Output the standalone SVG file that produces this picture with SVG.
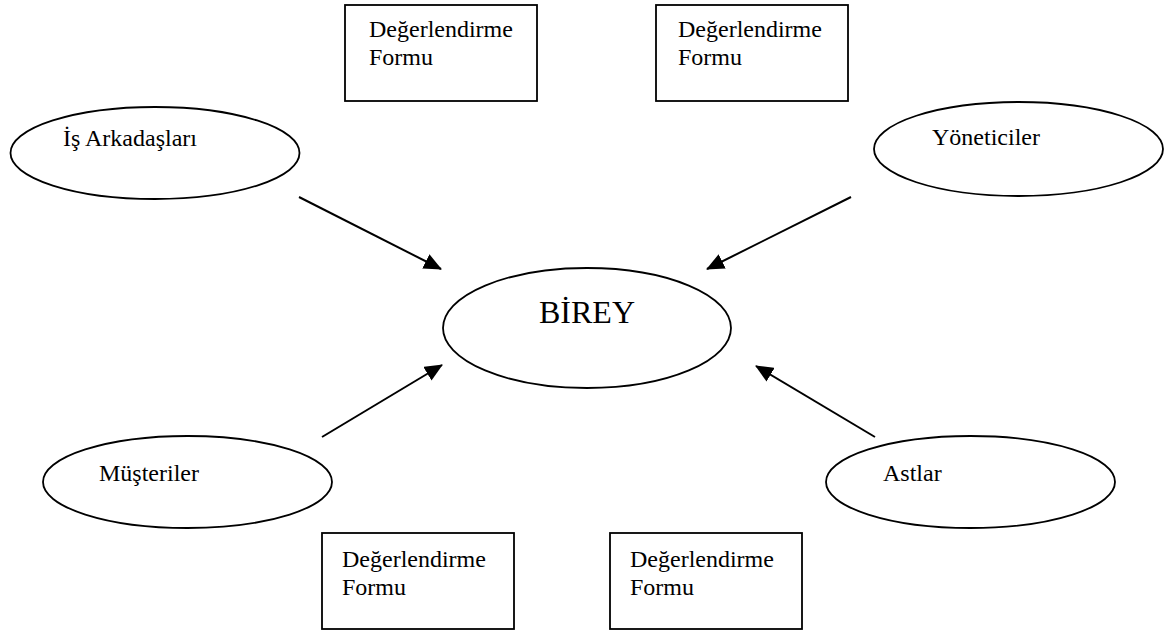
<svg xmlns="http://www.w3.org/2000/svg" width="1171" height="631" viewBox="0 0 1171 631">
<style>
.shape{fill:#fff;stroke:#000;stroke-width:1.8}
.t{font-family:"Liberation Serif","Times New Roman",serif;font-size:24px;fill:#000}
.big{font-size:32px}
.conn{stroke:#000;stroke-width:2;fill:none}
</style>
<defs>
<marker id="ah" markerUnits="userSpaceOnUse" markerWidth="18" markerHeight="16" refX="17" refY="8" orient="auto">
<path d="M0,0 L18,8 L0,16 z" fill="#000"/>
</marker>
</defs>
<rect width="1171" height="631" fill="#fff"/>
<g id="form-top-left">
<rect class="shape" x="345" y="5" width="192" height="96"/>
<text class="t" x="369" y="37">Değerlendirme</text>
<text class="t" x="369" y="65">Formu</text>
</g>
<g id="form-top-right">
<rect class="shape" x="656" y="5" width="192" height="96"/>
<text class="t" x="678" y="37">Değerlendirme</text>
<text class="t" x="678" y="65">Formu</text>
</g>
<g id="form-bottom-left">
<rect class="shape" x="322" y="533" width="192" height="96"/>
<text class="t" x="342" y="567">Değerlendirme</text>
<text class="t" x="342" y="595">Formu</text>
</g>
<g id="form-bottom-right">
<rect class="shape" x="610" y="533" width="192" height="96"/>
<text class="t" x="630" y="567">Değerlendirme</text>
<text class="t" x="630" y="595">Formu</text>
</g>
<g id="is-arkadaslari">
<ellipse class="shape" cx="155" cy="153" rx="144.5" ry="46"/>
<text class="t" x="63" y="146">İş Arkadaşları</text>
</g>
<g id="yoneticiler">
<ellipse class="shape" cx="1018.5" cy="149" rx="144.5" ry="47"/>
<text class="t" x="932" y="145">Yöneticiler</text>
</g>
<g id="birey">
<ellipse class="shape" cx="587" cy="328" rx="144" ry="60"/>
<text class="t big" x="539" y="323">BİREY</text>
</g>
<g id="musteriler">
<ellipse class="shape" cx="187.5" cy="482" rx="144.5" ry="46"/>
<text class="t" x="99" y="481">Müşteriler</text>
</g>
<g id="astlar">
<ellipse class="shape" cx="970.5" cy="482" rx="144.5" ry="46"/>
<text class="t" x="883" y="481">Astlar</text>
</g>
<g id="connectors">
<line class="conn" x1="299" y1="197" x2="441" y2="269" marker-end="url(#ah)"/>
<line class="conn" x1="851" y1="197" x2="707" y2="269" marker-end="url(#ah)"/>
<line class="conn" x1="322" y1="437" x2="442" y2="365" marker-end="url(#ah)"/>
<line class="conn" x1="875" y1="437" x2="756" y2="366" marker-end="url(#ah)"/>
</g>
</svg>
